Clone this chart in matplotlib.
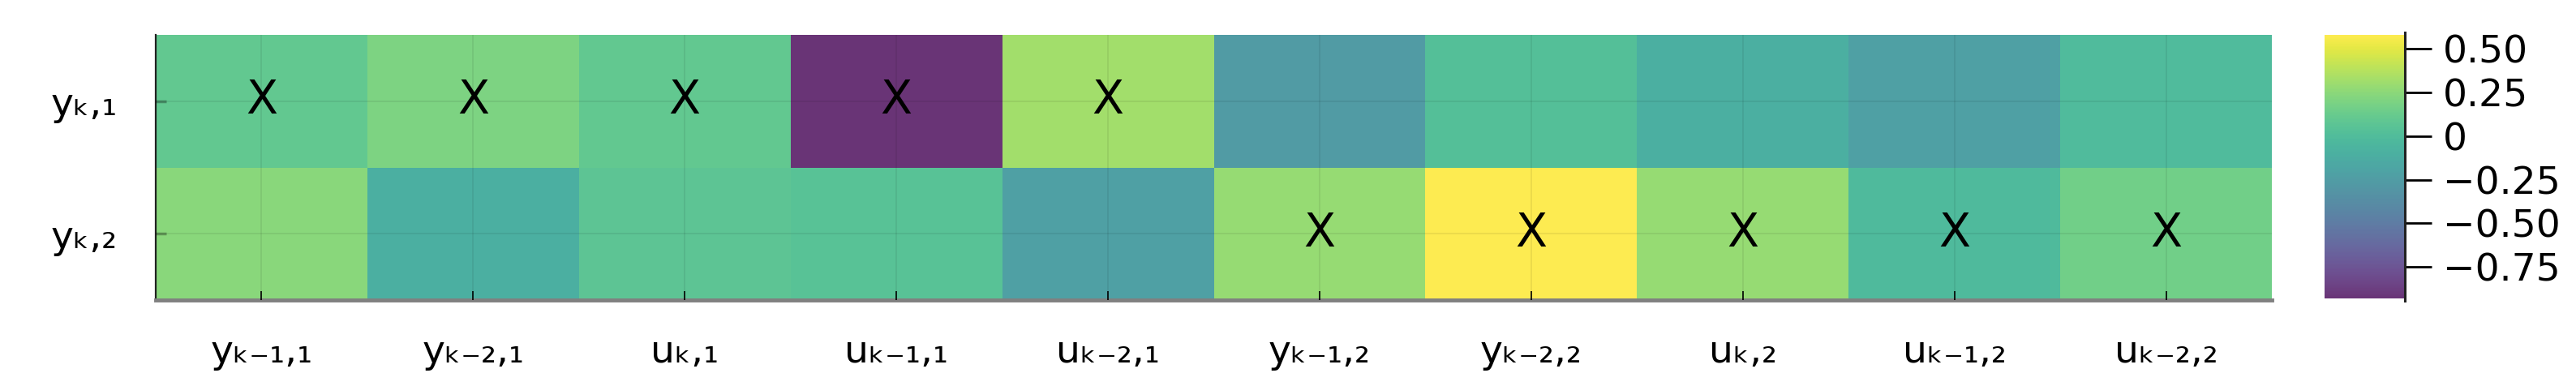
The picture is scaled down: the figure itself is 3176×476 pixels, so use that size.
import numpy as np
import matplotlib
matplotlib.use("Agg")
import matplotlib.pyplot as plt

plt.rcParams['font.family'] = ['DejaVu Sans']

# --- data ---
col_labels = ["yₖ₋₁,₁", "yₖ₋₂,₁", "uₖ,₁", "uₖ₋₁,₁", "uₖ₋₂,₁",
              "yₖ₋₁,₂", "yₖ₋₂,₂", "uₖ,₂", "uₖ₋₁,₂", "uₖ₋₂,₂"]
row_labels = ["yₖ,₁", "yₖ,₂"]
row1_values = [0.10, 0.20, 0.10, -0.93, 0.32, -0.26, 0.02, -0.11, -0.22, -0.01]
row2_values = [0.24, -0.11, 0.07, 0.045, -0.22, 0.28, 0.58, 0.28, -0.02, 0.16]
row1_marked = [1, 1, 1, 1, 1, 0, 0, 0, 0, 0]
row2_marked = [0, 0, 0, 0, 0, 1, 1, 1, 1, 1]
cbar_ticks = [0.5, 0.25, 0.0, -0.25, -0.5, -0.75]
cbar_ticklabels = ["0.50", "0.25", "0", "\u22120.25", "\u22120.50", "\u22120.75"]

Z = np.array([row1_values, row2_values])
M = np.array([row1_marked, row2_marked])
ncol = Z.shape[1]
nrow = Z.shape[0]

fig = plt.figure(figsize=(31.76, 4.76), dpi=100)
ax = fig.add_axes([192 / 3176, 1 - 370 / 476, (2801 - 192) / 3176, (370 - 43) / 476])
cax = fig.add_axes([2866 / 3176, 1 - 368 / 476, (2965 - 2866) / 3176, (368 - 43) / 476])

xe = np.arange(ncol + 1) + 0.5
ye = np.arange(nrow + 1) + 0.5
mesh = ax.pcolormesh(xe, ye, Z, cmap='viridis', alpha=0.8,
                     vmin=Z.min(), vmax=Z.max(), shading='flat', edgecolors='none')
ax.set_xlim(0.5, ncol + 0.5)
ax.set_ylim(nrow + 0.5, 0.5)

for i in range(nrow):
    for j in range(ncol):
        if M[i, j]:
            ax.text(j + 1, i + 1, "X", ha='center', va='center', fontsize=41, color='black')

ax.set_xticks(np.arange(1, ncol + 1))
ax.set_xticklabels(col_labels, fontsize=34)
ax.set_yticks(np.arange(1, nrow + 1))
ax.set_yticklabels(row_labels, fontsize=34)
ax.tick_params(axis='x', direction='in', length=8, width=1.2, color='black', pad=30)
ax.tick_params(axis='y', direction='in', length=9, width=2.5, color=(0, 0, 0, 0.3), pad=34)

ax.grid(True, color='black', alpha=0.08, linewidth=1.2)
ax.set_axisbelow(False)

for s in ['top', 'right']:
    ax.spines[s].set_visible(False)
ax.spines['left'].set_color('#222222')
ax.spines['left'].set_linewidth(1.6)
ax.spines['bottom'].set_color('#808080')
ax.spines['bottom'].set_linewidth(3.5)

cbar = fig.colorbar(mesh, cax=cax)
cbar.outline.set_visible(False)
cbar.set_ticks(cbar_ticks)
cbar.set_ticklabels(cbar_ticklabels)
cax.tick_params(axis='y', direction='out', length=24, width=2, color='black',
                labelsize=34, pad=10)
cax.plot([1, 1], [-0.01, 1.01], transform=cax.transAxes, color='#222222', lw=2.2,
         clip_on=False)

fig.savefig("out.png", dpi=100)
